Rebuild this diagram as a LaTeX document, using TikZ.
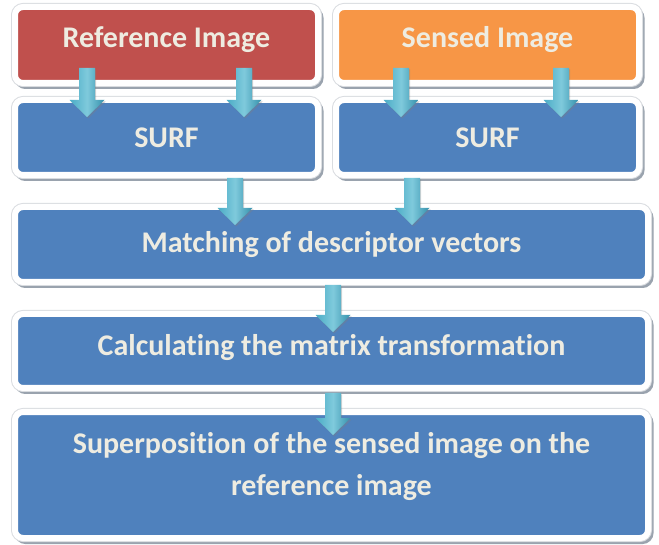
\documentclass[tikz,border=0pt]{standalone}
\usepackage{fontspec}
\newfontfamily\carl{Carlito}[Ligatures={NoCommon}]
\usetikzlibrary{calc,shadows}
\definecolor{cred}{HTML}{C0504D}
\definecolor{corange}{HTML}{F79646}
\definecolor{cblue}{HTML}{4F81BD}
\definecolor{ctext}{HTML}{EEECE1}
\definecolor{arrA}{HTML}{4BACC6}
\definecolor{arrB}{HTML}{3591AC}
\definecolor{arrC}{HTML}{7FCADC}
\definecolor{shgray}{HTML}{9AA3AE}
\definecolor{edgegray}{HTML}{D9DCE0}
\tikzset{
  box/.style={rounded corners=8pt, draw=white, line width=6pt, inner sep=0pt,
    minimum width=303pt, text=ctext, align=center,
    font=\carl\bfseries\fontsize{30}{42}\selectfont,
    preaction={draw=shgray, fill=shgray, line width=6pt, transform canvas={xshift=2.5pt,yshift=-3pt}},
    preaction={draw=edgegray, line width=8pt}},
  wide/.style={minimum width=633pt},
  barrow/.style={left color=arrA, right color=arrB, middle color=arrC,
    drop shadow={shadow xshift=1.2pt, shadow yshift=-1.5pt, opacity=0.35},
    to path={let \p1=(\tikztostart), \p2=(\tikztotarget) in
      (\x1-8pt,\y1) -- (\x1-8pt,\y2+17pt) -- (\x1-17.5pt,\y2+17pt) -- (\x1,\y2)
      -- (\x1+17.5pt,\y2+17pt) -- (\x1+8pt,\y2+17pt) -- (\x1+8pt,\y1) -- cycle}}
}
\begin{document}
\begin{tikzpicture}[x=1pt,y=-1pt]
\useasboundingbox (0,0) rectangle (659,545);
\node[box, fill=cred, minimum height=76pt] (ref) at (166.5,45) {\raisebox{5pt}[\height][\depth]{Reference Image}};
\node[box, fill=corange, minimum height=76pt] (sen) at (487.5,45) {\raisebox{5pt}[\height][\depth]{Sensed Image}};
\node[box, fill=cblue, minimum height=75pt] (surfL) at (166.5,137.5) {SURF};
\node[box, fill=cblue, minimum height=75pt] (surfR) at (487.5,137.5) {SURF};
\node[box, wide, fill=cblue, minimum height=75pt] (match) at (331.5,244.5) {Matching of descriptor vectors};
\node[box, wide, fill=cblue, minimum height=74pt] (calc) at (331.5,351) {\raisebox{3pt}[\height][\depth]{Calculating the matrix transformation}};
\node[box, wide, fill=cblue, minimum height=126pt] (sup) at (331.5,475) {\raisebox{9pt}[\height][\depth]{\begin{tabular}{@{}c@{}}Superposition of the sensed image on the\\ reference image\end{tabular}}};
% arrows
\path[barrow] ($(ref.south west)+(75,-18)$) to ($(surfL.north west)+(75,20)$);
\path[barrow] ($(ref.south west)+(232,-18)$) to ($(surfL.north west)+(232,20)$);
\path[barrow] ($(sen.south west)+(68,-18)$) to ($(surfR.north west)+(68,20)$);
\path[barrow] ($(sen.south west)+(228,-18)$) to ($(surfR.north west)+(228,20)$);
\path[barrow] ($(surfL.south west)+(223,0)$) to ($(match.north west)+(223,21)$);
\path[barrow] ($(surfR.south west)+(79,0)$) to ($(match.north west)+(400,21)$);
\path[barrow] ($(match.south)+(1.5,0)$) to ($(calc.north)+(1.5,21)$);
\path[barrow] ($(calc.south)+(1.5,2)$) to ($(sup.north)+(1.5,26)$);
\end{tikzpicture}
\end{document}
